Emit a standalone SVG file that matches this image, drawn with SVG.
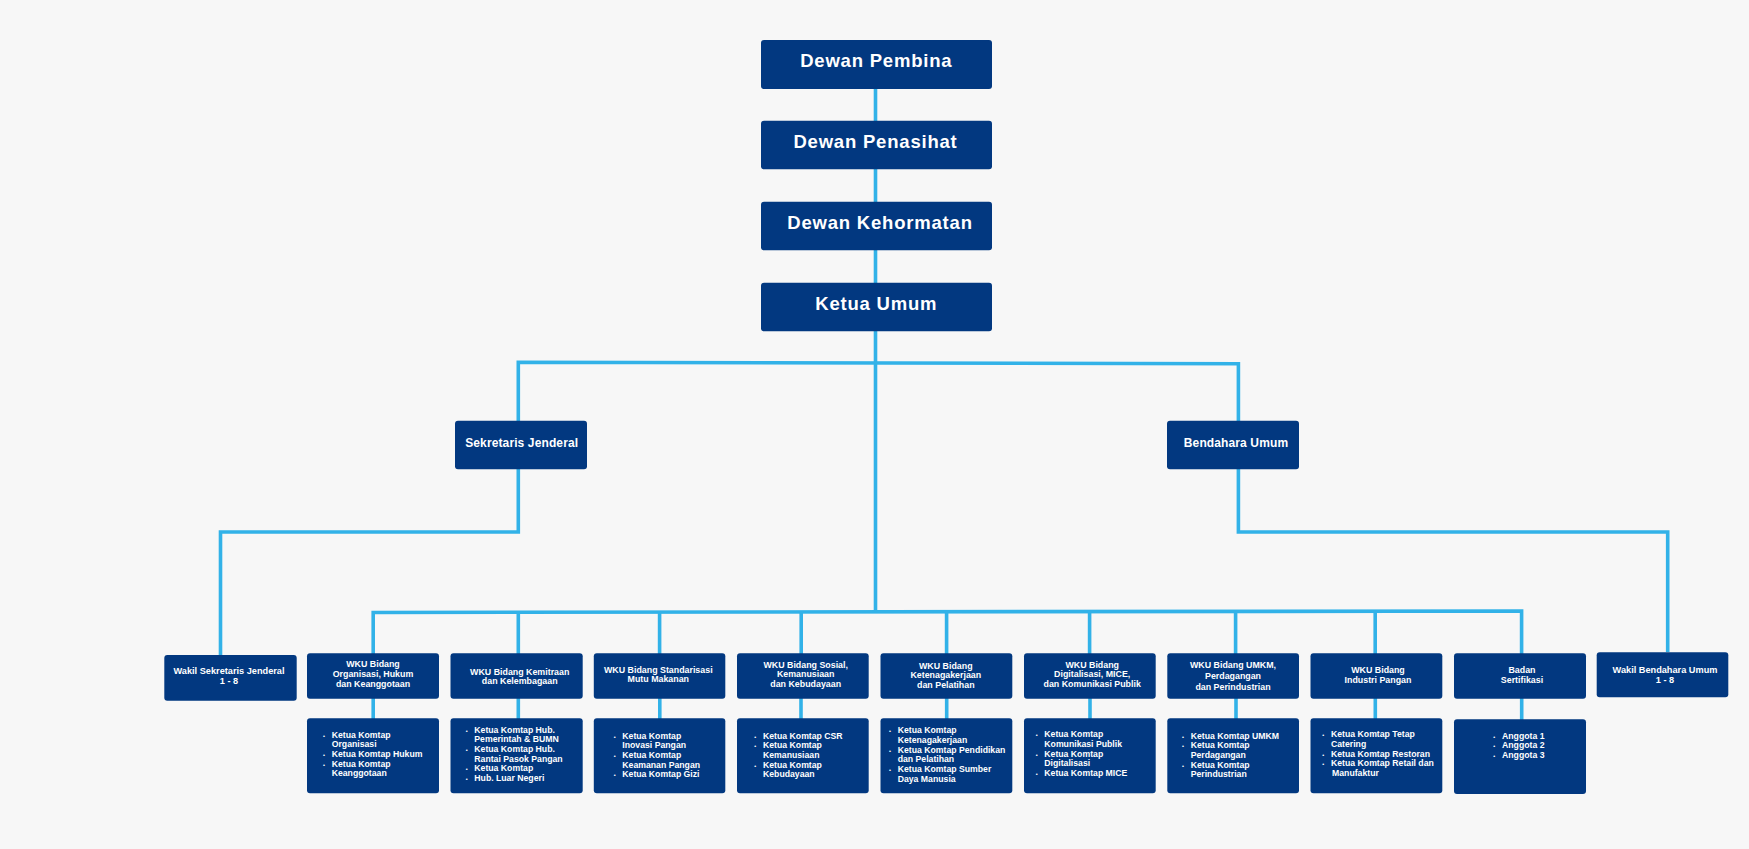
<svg xmlns="http://www.w3.org/2000/svg" width="1749" height="849" viewBox="0 0 1749 849">
<style>
.bx{fill:#023880;}
.cn{fill:none;stroke:#32b2e8;stroke-width:3.6;stroke-linejoin:miter;}
text{font-family:"Liberation Sans",Arial,sans-serif;font-weight:bold;fill:#ffffff;}
.top{font-size:18.5px;letter-spacing:0.8px;text-anchor:middle;}
.mid{font-size:12px;letter-spacing:0.12px;text-anchor:middle;}
.ttl{font-size:8.85px;text-anchor:middle;}
.wk{font-size:9.2px;text-anchor:middle;}
.li{font-size:8.7px;}
.bu{font-size:5.5px;}
</style>
<rect width="1749" height="849" fill="#f7f7f7"/>
<g id="connectors">
<path class="cn" d="M875.5 88 V612"/>
<path class="cn" d="M518.3 421 V362.3 L1238.4 363.7 V421"/>
<path class="cn" d="M518.3 469 V532 H220.5 V655"/>
<path class="cn" d="M1238.4 469 V532 H1667.7 V652"/>
<path class="cn" d="M373.2 654 V612.5 L1521.6 611 V654"/>
<path class="cn" d="M518.3 612 V654 M659.6 612 V654 M801.2 612 V654 M946.6 612 V654 M1089.6 611.5 V654 M1235.6 611.5 V654 M1375.2 611.5 V654"/>
<path class="cn" d="M373.2 698 V719 M518.3 698 V719 M659.8 698 V719 M801 698 V719 M946.7 698 V719 M1090 698 V719 M1236 698 V719 M1375.3 698 V719 M1521.7 698 V720"/>
</g>
<g id="dewan-pembina"><rect class="bx" x="761" y="40" width="231" height="49" rx="3"/><text class="top" x="876.3" y="67.3">Dewan Pembina</text></g>
<g id="dewan-penasihat"><rect class="bx" x="761" y="120.7" width="231" height="48.5" rx="3"/><text class="top" x="875.5" y="148.3">Dewan Penasihat</text></g>
<g id="dewan-kehormatan"><rect class="bx" x="761" y="201.7" width="231" height="48.6" rx="3"/><text class="top" x="880" y="229.3">Dewan Kehormatan</text></g>
<g id="ketua-umum"><rect class="bx" x="761" y="282.7" width="231" height="48.6" rx="3"/><text class="top" x="876.3" y="310.3">Ketua Umum</text></g>
<g id="sekretaris-jenderal"><rect class="bx" x="455" y="420.7" width="132" height="48.6" rx="3"/><text class="mid" x="521.7" y="447.3">Sekretaris Jenderal</text></g>
<g id="bendahara-umum"><rect class="bx" x="1167" y="420.7" width="132" height="48.6" rx="3"/><text class="mid" x="1236" y="447.3">Bendahara Umum</text></g>
<g id="wakil-sekjen"><rect class="bx" x="164.3" y="655" width="132.4" height="45.7" rx="3"/><text class="wk" x="229" y="674.3">Wakil Sekretaris Jenderal</text><text class="wk" x="229" y="684.3">1 - 8</text></g>
<g id="wakil-bendahara"><rect class="bx" x="1596.7" y="652.3" width="131.6" height="45" rx="3"/><text class="wk" x="1665" y="673.3">Wakil Bendahara Umum</text><text class="wk" x="1665" y="683.3">1 - 8</text></g>
<g id="wku-organisasi"><rect class="bx" x="307" y="653.3" width="132" height="45.4" rx="3"/><text class="ttl" x="373" y="667.3">WKU Bidang</text><text class="ttl" x="373" y="677.3">Organisasi, Hukum</text><text class="ttl" x="373" y="687">dan Keanggotaan</text></g>
<g id="wku-kemitraan"><rect class="bx" x="450.5" y="653.3" width="132.2" height="45.4" rx="3"/><text class="ttl" x="519.7" y="674.7">WKU Bidang Kemitraan</text><text class="ttl" x="519.7" y="684.3">dan Kelembagaan</text></g>
<g id="wku-standarisasi"><rect class="bx" x="593.8" y="653.3" width="131.5" height="45.4" rx="3"/><text class="ttl" x="658.3" y="672.7">WKU Bidang Standarisasi</text><text class="ttl" x="658.3" y="682">Mutu Makanan</text></g>
<g id="wku-sosial"><rect class="bx" x="737" y="653.3" width="131.7" height="45.4" rx="3"/><text class="ttl" x="805.7" y="667.7">WKU Bidang Sosial,</text><text class="ttl" x="805.7" y="677.3">Kemanusiaan</text><text class="ttl" x="805.7" y="686.7">dan Kebudayaan</text></g>
<g id="wku-ketenagakerjaan"><rect class="bx" x="880.5" y="653.3" width="131.8" height="45.4" rx="3"/><text class="ttl" x="945.8" y="669">WKU Bidang</text><text class="ttl" x="945.8" y="678.3">Ketenagakerjaan</text><text class="ttl" x="945.8" y="687.7">dan Pelatihan</text></g>
<g id="wku-digitalisasi"><rect class="bx" x="1024" y="653.3" width="131.7" height="45.4" rx="3"/><text class="ttl" x="1092.2" y="667.7">WKU Bidang</text><text class="ttl" x="1092.2" y="677.3">Digitalisasi, MICE,</text><text class="ttl" x="1092.2" y="687">dan Komunikasi Publik</text></g>
<g id="wku-umkm"><rect class="bx" x="1167.3" y="653.3" width="131.7" height="45.4" rx="3"/><text class="ttl" x="1233" y="668.3">WKU Bidang UMKM,</text><text class="ttl" x="1233" y="678.7">Perdagangan</text><text class="ttl" x="1233" y="689.7">dan Perindustrian</text></g>
<g id="wku-industri"><rect class="bx" x="1310.5" y="653.3" width="131.8" height="45.4" rx="3"/><text class="ttl" x="1378" y="673.3">WKU Bidang</text><text class="ttl" x="1378" y="683">Industri Pangan</text></g>
<g id="badan-sertifikasi"><rect class="bx" x="1454" y="653.3" width="132" height="45.4" rx="3"/><text class="ttl" x="1522" y="673.3">Badan</text><text class="ttl" x="1522" y="683">Sertifikasi</text></g>
<g id="list-organisasi"><rect class="bx" x="307" y="718.3" width="132" height="75" rx="3"/>
<text class="bu" x="323" y="737.7">•</text><text class="li" x="331.7" y="737.7">Ketua Komtap</text>
<text class="li" x="331.7" y="747.3">Organisasi</text>
<text class="bu" x="323" y="756.9">•</text><text class="li" x="331.7" y="756.9">Ketua Komtap Hukum</text>
<text class="bu" x="323" y="766.5">•</text><text class="li" x="331.7" y="766.5">Ketua Komtap</text>
<text class="li" x="331.7" y="776.1">Keanggotaan</text></g>
<g id="list-kemitraan"><rect class="bx" x="450.5" y="718.3" width="132.2" height="75" rx="3"/>
<text class="bu" x="465.7" y="732.7">•</text><text class="li" x="474.3" y="732.7">Ketua Komtap Hub.</text>
<text class="li" x="474.3" y="742.3">Pemerintah &amp; BUMN</text>
<text class="bu" x="465.7" y="752">•</text><text class="li" x="474.3" y="752">Ketua Komtap Hub.</text>
<text class="li" x="474.3" y="761.6">Rantai Pasok Pangan</text>
<text class="bu" x="465.7" y="771.3">•</text><text class="li" x="474.3" y="771.3">Ketua Komtap</text>
<text class="bu" x="465.7" y="780.9">•</text><text class="li" x="474.3" y="780.9">Hub. Luar Negeri</text></g>
<g id="list-standarisasi"><rect class="bx" x="593.8" y="718.3" width="131.5" height="75" rx="3"/>
<text class="bu" x="613.7" y="738.7">•</text><text class="li" x="622.3" y="738.7">Ketua Komtap</text>
<text class="li" x="622.3" y="748.3">Inovasi Pangan</text>
<text class="bu" x="613.7" y="758">•</text><text class="li" x="622.3" y="758">Ketua Komtap</text>
<text class="li" x="622.3" y="767.6">Keamanan Pangan</text>
<text class="bu" x="613.7" y="777.2">•</text><text class="li" x="622.3" y="777.2">Ketua Komtap Gizi</text></g>
<g id="list-sosial"><rect class="bx" x="737" y="718.3" width="131.7" height="75" rx="3"/>
<text class="bu" x="754.3" y="738.7">•</text><text class="li" x="763" y="738.7">Ketua Komtap CSR</text>
<text class="bu" x="754.3" y="748.3">•</text><text class="li" x="763" y="748.3">Ketua Komtap</text>
<text class="li" x="763" y="758">Kemanusiaan</text>
<text class="bu" x="754.3" y="767.6">•</text><text class="li" x="763" y="767.6">Ketua Komtap</text>
<text class="li" x="763" y="777.2">Kebudayaan</text></g>
<g id="list-ketenagakerjaan"><rect class="bx" x="880.5" y="718.3" width="131.8" height="75" rx="3"/>
<text class="bu" x="889" y="733.3">•</text><text class="li" x="897.7" y="733.3">Ketua Komtap</text>
<text class="li" x="897.7" y="742.9">Ketenagakerjaan</text>
<text class="bu" x="889" y="752.6">•</text><text class="li" x="897.7" y="752.6">Ketua Komtap Pendidikan</text>
<text class="li" x="897.7" y="762.2">dan Pelatihan</text>
<text class="bu" x="889" y="771.9">•</text><text class="li" x="897.7" y="771.9">Ketua Komtap Sumber</text>
<text class="li" x="897.7" y="781.5">Daya Manusia</text></g>
<g id="list-digitalisasi"><rect class="bx" x="1024" y="718.3" width="131.7" height="75" rx="3"/>
<text class="bu" x="1035.7" y="737.3">•</text><text class="li" x="1044.3" y="737.3">Ketua Komtap</text>
<text class="li" x="1044.3" y="746.9">Komunikasi Publik</text>
<text class="bu" x="1035.7" y="756.6">•</text><text class="li" x="1044.3" y="756.6">Ketua Komtap</text>
<text class="li" x="1044.3" y="766.2">Digitalisasi</text>
<text class="bu" x="1035.7" y="775.9">•</text><text class="li" x="1044.3" y="775.9">Ketua Komtap MICE</text></g>
<g id="list-umkm"><rect class="bx" x="1167.3" y="718.3" width="131.7" height="75" rx="3"/>
<text class="bu" x="1182" y="738.7">•</text><text class="li" x="1190.7" y="738.7">Ketua Komtap UMKM</text>
<text class="bu" x="1182" y="748.3">•</text><text class="li" x="1190.7" y="748.3">Ketua Komtap</text>
<text class="li" x="1190.7" y="758">Perdagangan</text>
<text class="bu" x="1182" y="767.6">•</text><text class="li" x="1190.7" y="767.6">Ketua Komtap</text>
<text class="li" x="1190.7" y="777.2">Perindustrian</text></g>
<g id="list-industri"><rect class="bx" x="1310.5" y="718.3" width="131.8" height="75" rx="3"/>
<text class="bu" x="1322.3" y="737.3">•</text><text class="li" x="1331" y="737.3">Ketua Komtap Tetap</text>
<text class="li" x="1331" y="746.9">Catering</text>
<text class="bu" x="1322.3" y="756.6">•</text><text class="li" x="1331" y="756.6">Ketua Komtap Restoran</text>
<text class="bu" x="1322.3" y="766.2">•</text><text class="li" x="1331" y="766.2">Ketua Komtap Retail dan</text>
<text class="li" x="1332" y="775.9">Manufaktur</text></g>
<g id="list-badan"><rect class="bx" x="1454" y="719.3" width="132" height="74.7" rx="3"/>
<text class="bu" x="1493.3" y="738.7">•</text><text class="li" x="1502" y="738.7">Anggota 1</text>
<text class="bu" x="1493.3" y="748.3">•</text><text class="li" x="1502" y="748.3">Anggota 2</text>
<text class="bu" x="1493.3" y="758">•</text><text class="li" x="1502" y="758">Anggota 3</text></g>
</svg>
